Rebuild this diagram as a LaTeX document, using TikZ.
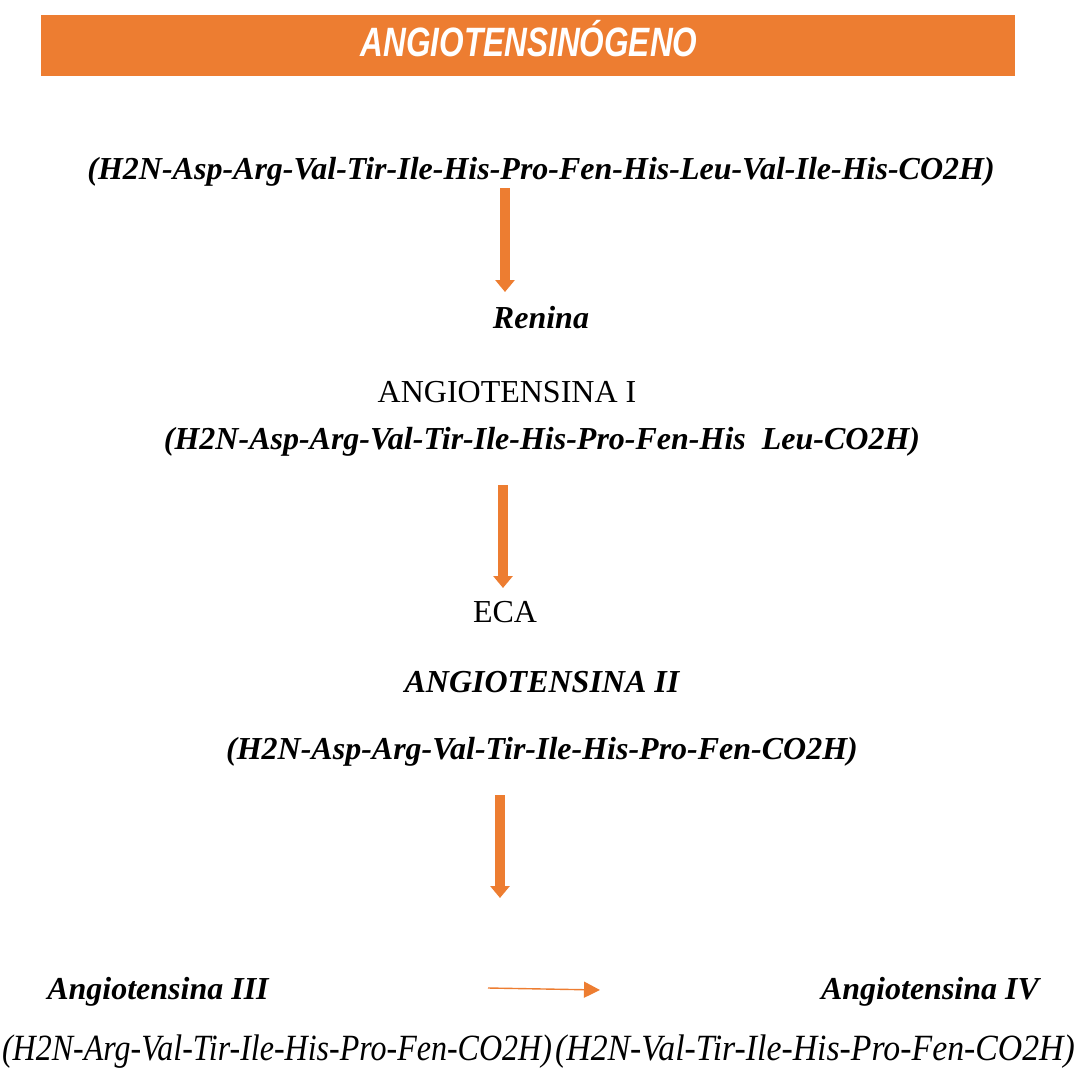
\documentclass[tikz,border=0pt]{standalone}
\usepackage{fontspec}
\setmainfont{Liberation Serif}
\newfontfamily\titlefont{Liberation Sans}
\usetikzlibrary{arrows.meta}
\definecolor{naranja}{HTML}{ED7D31}
\tikzset{
 seq/.style={font=\fontsize{16}{19}\selectfont\bfseries\itshape, inner sep=0pt},
 plain/.style={font=\fontsize{16}{19}\selectfont, inner sep=0pt},
 frag/.style={font=\fontsize{18.5}{22}\selectfont\itshape, inner sep=0pt},
 bigarrow/.style={draw=naranja, line width=5pt, -{Triangle[width=9.5pt,length=6pt,fill=naranja]}},
 thinarrow/.style={draw=naranja, line width=0.7pt, -{Triangle[width=8pt,length=8pt,fill=naranja]}}
}
\begin{document}
\begin{tikzpicture}[x=0.5pt,y=-0.5pt]
 \useasboundingbox (0,0) rectangle (1081,1083);
 \fill [naranja] (41,15) rectangle (1015,76);
 \node (titulo) at (529,39) {\titlefont\fontsize{20.5}{24}\selectfont\color{white}\bfseries\itshape\scalebox{0.77}[1]{ANGIOTENSIN\'OGENO}};

 \node [seq] (s1) at (541,172) {(H2N-Asp-Arg-Val-Tir-Ile-His-Pro-Fen-His-Leu-Val-Ile-His-CO2H)};
 \node [seq] (renina) at (541,318) {Renina};
 \node [plain] (a1) at (507,392) {ANGIOTENSINA I};
 \node [seq] (s2) at (542,442) {(H2N-Asp-Arg-Val-Tir-Ile-His-Pro-Fen-His\ \ Leu-CO2H)};
 \node [plain] (eca) at (505,612) {ECA};
 \node [seq] (a2) at (542,682) {ANGIOTENSINA II};
 \node [seq] (s3) at (542,752) {(H2N-Asp-Arg-Val-Tir-Ile-His-Pro-Fen-CO2H)};
 \node [seq] (a3) at (158,992) {Angiotensina III};
 \node [seq] (a4) at (930,992) {Angiotensina IV};
 \node [frag] (f3) at (277,1052) {\scalebox{0.865}[1]{(H2N-Arg-Val-Tir-Ile-His-Pro-Fen-CO2H)}};
 \node [frag] (f4) at (815,1052) {\scalebox{0.913}[1]{(H2N-Val-Tir-Ile-His-Pro-Fen-CO2H)}};

 \coordinate (p1) at (505,188);
 \coordinate (q1) at (505,292);
 \coordinate (p2) at (503,485);
 \coordinate (q2) at (503,588);
 \coordinate (p3) at (500,795);
 \coordinate (q3) at (500,898);
 \coordinate (p4) at (488,988);
 \coordinate (q4) at (600,990);

 \draw [bigarrow] (p1) -- (q1);
 \draw [bigarrow] (p2) -- (q2);
 \draw [bigarrow] (p3) -- (q3);
 \draw [thinarrow] (p4) -- (q4);
\end{tikzpicture}
\end{document}
